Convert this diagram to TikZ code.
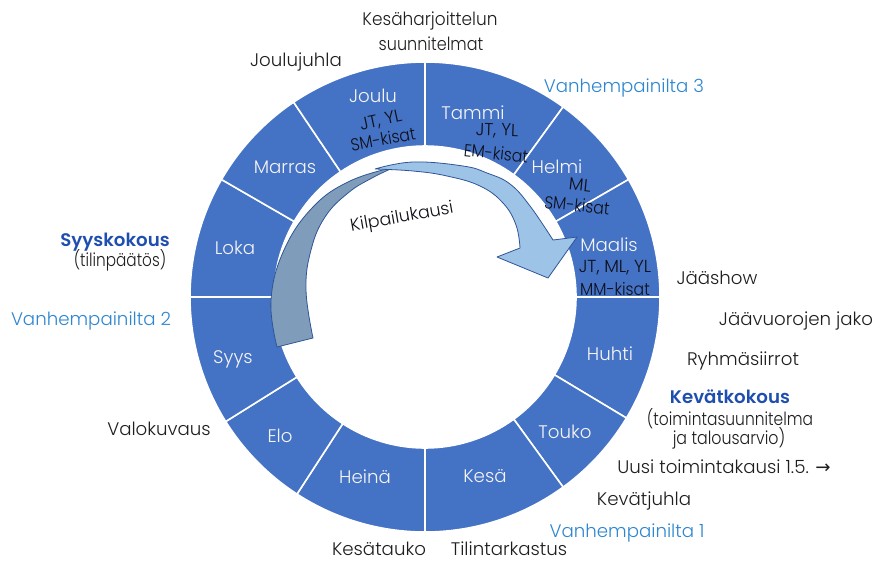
\documentclass[tikz,border=0pt]{standalone}
\usepackage{fontspec}
\IfFontExistsTF{Poppins Light}{\setmainfont{Poppins Light}}{\setmainfont{Poppins}}
\IfFontExistsTF{Poppins SemiBold}{\newfontfamily\kokfont{Poppins SemiBold}\newcommand\kokweight{}}{\newfontfamily\kokfont{Poppins}\newcommand\kokweight{\bfseries}}
\newfontfamily\arrowfont{DejaVu Sans}
\definecolor{ringblue}{RGB}{68,114,196}
\definecolor{arrdark}{RGB}{127,157,186}
\definecolor{arrlight}{RGB}{157,195,230}
\definecolor{arrline}{RGB}{47,85,151}
\definecolor{outtext}{RGB}{30,30,30}
\definecolor{montext}{RGB}{245,245,245}
\definecolor{subtext}{RGB}{15,15,25}
\definecolor{vhblue}{RGB}{46,134,208}
\definecolor{kokblue}{RGB}{30,78,175}
\tikzset{
  lbl/.style={anchor=base, inner sep=0pt, font=\fontsize{18.2}{21}\selectfont, text=outtext},
  mon/.style={lbl, text=montext},
  sub/.style={anchor=center, inner sep=0pt, font=\fontsize{17.4}{20}\selectfont, text=subtext},
  vh/.style={lbl, text=vhblue},
  kok/.style={lbl, text=kokblue, font=\fontsize{18.2}{21}\selectfont\kokfont\kokweight},
  ringseg/.style={fill=ringblue, draw=white, line width=1.6pt, line join=round},
  darkarr/.style={fill=arrdark, draw=arrline, line width=0.8pt, line join=round},
  lightarr/.style={fill=arrlight, draw=arrline, line width=0.8pt, line join=round},
}
\begin{document}
\begin{tikzpicture}[x=1pt,y=-1pt]
\useasboundingbox (0,0) rectangle (877,563);
% ring
\begin{scope}[shift={(425,297)}]
\foreach \p/\q in {-90/-54,-54/-30,-30/0,0/31,31/54,54/90,90/123,123/148,148/180,180/210,210/236,236/270}
  \filldraw[ringseg] (\p:235) arc[start angle=\p, end angle=\q, radius=235] -- (\q:151) arc[start angle=\q, end angle=\p, radius=151] -- cycle;
\end{scope}
% curved arrow
\filldraw[darkarr] plot[smooth, tension=0.7] coordinates {(277,347) (271,300) (284,250) (313,207) (350,181) (395,167)}
  -- plot[smooth, tension=0.7] coordinates {(395,167) (372,178) (348,193) (325,217) (311,250) (306,290) (313,338)} -- cycle;
\filldraw[lightarr] plot[smooth, tension=0.7] coordinates {(375,169) (413,162) (463,166) (487,173) (510,184) (530,206) (553,240)}
  -- (577,237) -- (548,278) -- (497,257) -- (520,248)
  -- plot[smooth, tension=0.7] coordinates {(520,248) (516,225) (503,203) (480,186) (447,176) (413,171) (375,169)} -- cycle;
\node[sub, rotate=10] (kilpailu) at (402,218) {Kilpailukausi};
% month labels
\node[mon] (tammi) at (473,119) {Tammi};
\node[mon] (helmi) at (557,173) {Helmi};
\node[mon] (maalis) at (609,251) {Maalis};
\node[mon] (huhti) at (610,360) {Huhti};
\node[mon] (touko) at (565,438) {Touko};
\node[mon] (kesa) at (485,482) {Kesä};
\node[mon] (heina) at (365,483) {Heinä};
\node[mon] (elo) at (280,442) {Elo};
\node[mon] (syys) at (233,363) {Syys};
\node[mon] (loka) at (235,254) {Loka};
\node[mon] (marras) at (285,173) {Marras};
\node[mon] (joulu) at (373,102) {Joulu};
% sub labels
\node[sub, rotate=12] (jouluA) at (381,121) {JT, YL};
\node[sub, rotate=10, xscale=0.9] (jouluB) at (383,139) {SM-kisat};
\node[sub, rotate=-2] (tammiA) at (497,131) {JT, YL};
\node[sub, rotate=-6, xscale=0.9] (tammiB) at (496,153) {EM-kisat};
\node[sub, rotate=-6] (helmiA) at (580,185) {ML};
\node[sub, rotate=-6, xscale=0.9] (helmiB) at (577,205) {SM-kisat};
\node[sub] (maalisA) at (615,268) {JT, ML, YL};
\node[sub, xscale=0.9] (maalisB) at (615,289) {MM-kisat};
% outer labels
\node[lbl, xscale=0.93] (kesahar1) at (430,25) {Kesäharjoittelun};
\node[lbl, xscale=0.88] (kesahar2) at (431,50) {suunnitelmat};
\node[lbl] (joulujuhla) at (296,66) {Joulujuhla};
\node[vh] (vh3) at (624,92) {Vanhempainilta 3};
\node[kok] (syyskok) at (115,246) {Syyskokous};
\node[lbl, xscale=0.84] (tilinp) at (120,266) {(tilinpäätös)};
\node[vh] (vh2) at (91,325) {Vanhempainilta 2};
\node[lbl] (valok) at (159,435) {Valokuvaus};
\node[lbl] (kesatauko) at (379,555) {Kesätauko};
\node[lbl] (tilint) at (509,555) {Tilintarkastus};
\node[vh] (vh1) at (627,537) {Vanhempainilta 1};
\node[lbl] (kevatjuhla) at (644,505) {Kevätjuhla};
\node[lbl] (uusi) at (724,473) {Uusi toimintakausi 1.5. {\arrowfont →}};
\node[lbl, xscale=0.87] (talous) at (729,444) {ja talousarvio)};
\node[lbl, xscale=0.85] (toiminta) at (730,425) {(toimintasuunnitelma};
\node[kok] (kevatkok) at (730,403) {Kevätkokous};
\node[lbl] (ryhma) at (743,365) {Ryhmäsiirrot};
\node[lbl] (jaavuoro) at (796,325) {Jäävuorojen jako};
\node[lbl] (jaashow) at (717,284) {Jääshow};
\end{tikzpicture}
\end{document}
